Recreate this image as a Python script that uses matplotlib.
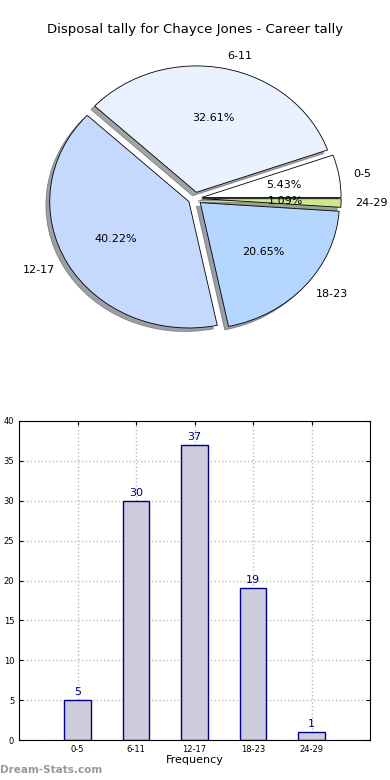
import matplotlib
matplotlib.use("Agg")
import matplotlib.pyplot as plt
import numpy as np

# disposal ranges and counts
ranges = ['0-5', '6-11', '12-17', '18-23', '24-29']
counts = [5, 30, 37, 19, 1]
pie_colors = ['#ffffff', '#eaf1fe', '#c5d8fe', '#b4d6ff', '#cde98d']
title = 'Disposal tally for Chayce Jones - Career tally'

fig = plt.figure(figsize=(3.9, 7.8), dpi=100)

# pie part (not equal aspect, like the old style ellipse)
ax1 = fig.add_axes([(195 - 174) / 390, (780 - 198.5 - 158) / 780, 348 / 390, 316 / 780])
wedges, texts, autotexts = ax1.pie(counts, labels=ranges, colors=pie_colors,
                                   explode=[0.05] * len(counts), shadow=True,
                                   autopct='%1.2f%%', startangle=0,
                                   wedgeprops={'edgecolor': 'black', 'linewidth': 0.6},
                                   textprops={'fontsize': 8})
ax1.set_aspect('auto')
ax1.set_xlim(-1.25, 1.25)
ax1.set_ylim(-1.25, 1.25)
fig.text(0.5, 1 - 30 / 780, title, ha='center', va='center', fontsize=9.5)

# bar part
ax2 = fig.add_axes([19 / 390, 40 / 780, 351 / 390, 319 / 780])
x = np.arange(len(ranges))
ax2.bar(x, counts, width=0.45, color='#ccccdd', edgecolor='navy', linewidth=1, zorder=2)
for i in range(len(counts)):
    ax2.text(x[i], counts[i] + 0.4, str(counts[i]), ha='center', va='bottom',
             color='navy', fontsize=8)
ax2.set_xlim(-1, 5)
ax2.set_ylim(0, 40)
ax2.set_xticks(x)
ax2.set_xticklabels(ranges)
ax2.set_yticks(range(0, 41, 5))
ax2.tick_params(labelsize=6, direction='in', length=3, top=True, right=True)
ax2.grid(True, linestyle=':', color='#bbbbbb', linewidth=1, zorder=0)
ax2.set_axisbelow(True)
ax2.set_xlabel('Frequency', fontsize=8, labelpad=1)

fig.text(0.0, 1 - 770 / 780, 'Dream-Stats.com', ha='left', va='center',
         fontsize=7.5, color='#999999', fontweight='bold')

fig.savefig('out.png', dpi=100)
